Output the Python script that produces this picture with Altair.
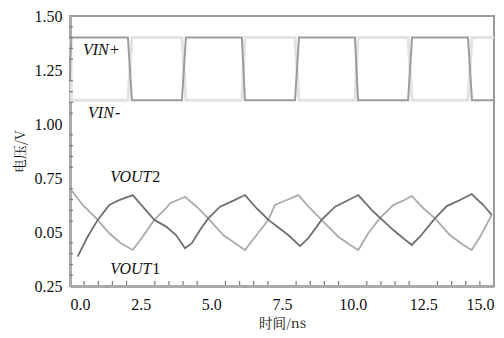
import altair as alt
import pandas as pd

# ---- data ----
# VOUT (dark curve)
t_a = [0.27, 0.60, 0.98, 1.39, 1.74, 2.22, 2.98, 3.40, 3.75, 4.07, 4.31, 4.60, 4.89, 5.31, 5.78, 6.19,
       6.60, 7.02, 7.72, 8.14, 8.43, 8.90, 9.38, 9.85, 10.20, 10.67, 10.97, 11.44, 11.79, 12.09,
       12.38, 12.91, 13.33, 13.80, 14.21, 14.62, 14.92]
v_a = [0.386, 0.472, 0.556, 0.625, 0.648, 0.671, 0.556, 0.525, 0.486, 0.425, 0.448, 0.509, 0.563, 0.617,
       0.645, 0.671, 0.610, 0.556, 0.486, 0.435, 0.471, 0.556, 0.617, 0.648, 0.671, 0.602, 0.565,
       0.509, 0.471, 0.440, 0.478, 0.563, 0.620, 0.648, 0.676, 0.625, 0.579]
# VOUT (light curve)
t_b = [0.04, 0.45, 0.98, 1.39, 1.80, 2.22, 2.57, 2.98, 3.40, 3.54, 4.07, 4.48, 4.89, 5.42, 5.84, 6.19,
       6.60, 7.02, 7.25, 7.67, 8.08, 8.49, 8.90, 9.49, 9.91, 10.20, 10.55, 10.97, 11.44, 11.79, 12.09,
       12.50, 12.91, 13.44, 13.91, 14.21, 14.51, 14.92]
v_b = [0.694, 0.625, 0.556, 0.494, 0.448, 0.417, 0.478, 0.556, 0.610, 0.633, 0.663, 0.617, 0.563, 0.486,
       0.448, 0.417, 0.486, 0.556, 0.625, 0.648, 0.671, 0.610, 0.556, 0.478, 0.440, 0.417, 0.494,
       0.565, 0.625, 0.645, 0.667, 0.610, 0.563, 0.486, 0.440, 0.417, 0.478, 0.579]
# VIN+ square wave
t_vp = [0.0, 0.01, 0.05, 2.05, 2.19, 3.96, 4.10, 6.08, 6.19, 7.96, 8.10, 10.08, 10.19, 11.96, 12.10, 14.08, 14.22, 15.0]
v_vp = [1.20, 1.30, 1.40, 1.40, 1.11, 1.11, 1.40, 1.40, 1.11, 1.11, 1.40, 1.40, 1.11, 1.11, 1.40, 1.40, 1.11, 1.11]
# VIN- square wave
t_vm = [0.03, 0.05, 2.05, 2.19, 3.96, 4.10, 6.08, 6.19, 7.96, 8.10, 10.08, 10.19, 11.96, 12.10, 14.08, 14.22, 15.0]
v_vm = [1.40, 1.11, 1.11, 1.40, 1.40, 1.11, 1.11, 1.40, 1.40, 1.11, 1.11, 1.40, 1.40, 1.11, 1.11, 1.40, 1.40]

x_ticks = [0, 2.5, 5, 7.5, 10, 12.5, 15]
y_ticks = [0.25, 0.5, 0.75, 1.0, 1.25, 1.5]
x_minor = [0.5, 1.0, 1.5, 2.0, 3.0, 3.5, 4.0, 4.5, 5.5, 6.0, 6.5, 7.0, 8.0, 8.5, 9.0, 9.5,
           10.5, 11.0, 11.5, 12.0, 13.0, 13.5, 14.0, 14.5]
y_minor = [0.30, 0.35, 0.40, 0.45, 0.55, 0.60, 0.65, 0.70, 0.80, 0.85, 0.90, 0.95,
           1.05, 1.10, 1.15, 1.20, 1.30, 1.35, 1.40, 1.45]

lab_main = ["VIN", "VIN", "VOUT", "VOUT"]
lab_suffix = ["+", "-", "2", "1"]
lab_t = [0.46, 0.64, 1.42, 1.42]
lab_v = [1.343, 1.051, 0.755, 0.329]

SERIF = "Liberation Serif, Times New Roman, serif"
CJK = "Noto Serif CJK SC, Noto Sans CJK SC"


def line_df(ts, vs):
    return pd.DataFrame({"t": ts, "v": vs, "i": list(range(len(ts)))})


x_enc = alt.X("t:Q",
              scale=alt.Scale(domain=[0, 15], nice=False, zero=False),
              axis=alt.Axis(values=x_ticks, format=".1f", ticks=False, grid=False,
                            labelPadding=10, labelFlush=2, labelFont=SERIF, labelFontSize=16,
                            labelColor="#111", domainColor="#aaaaaa", domainWidth=3,
                            title="时间/ns", titleFont=CJK, titleFontSize=13.5,
                            titleFontWeight="normal", titleColor="#111", titlePadding=4))
y_enc = alt.Y("v:Q",
              scale=alt.Scale(domain=[0.25, 1.5], nice=False, zero=False),
              axis=alt.Axis(values=y_ticks, labelExpr="datum.value == 0.5 ? '0.05' : format(datum.value, '.2f')",
                            ticks=False, grid=False, labelPadding=8, labelFont=SERIF, labelFontSize=16,
                            labelColor="#111", domainColor="#aaaaaa", domainWidth=3,
                            title="电压/V", titleFont=CJK, titleFontSize=14,
                            titleFontWeight="normal", titleColor="#111", titlePadding=7))


def line(df, color, width):
    return alt.Chart(df).mark_line(color=color, strokeWidth=width, interpolate="linear").encode(
        x=x_enc, y=y_enc, order="i:Q")


vin_m = line(line_df(t_vm, v_vm), "#e2e2e2", 3)
vin_p = line(line_df(t_vp, v_vp), "#9c9c9c", 2)
vout_b = line(line_df(t_b, v_b), "#ababab", 1.8)
vout_a = line(line_df(t_a, v_a), "#6e6e6e", 1.8)

lab_df = pd.DataFrame({"t": lab_t, "v": lab_v, "m": lab_main, "s": lab_suffix})
txt_main = alt.Chart(lab_df).mark_text(font=SERIF, fontSize=16, fontStyle="italic", align="left",
                                       baseline="middle", color="#111").encode(x=x_enc, y=y_enc, text="m:N")
txt_vin = alt.Chart(lab_df.iloc[:2]).mark_text(font=SERIF, fontSize=16, align="left", baseline="middle",
                                               color="#111", dx=27).encode(x=x_enc, y=y_enc, text="s:N")
txt_vout = alt.Chart(lab_df.iloc[2:]).mark_text(font=SERIF, fontSize=16, align="left", baseline="middle",
                                                color="#111", dx=42).encode(x=x_enc, y=y_enc, text="s:N")

xm = alt.Chart(pd.DataFrame({"t": x_minor})).mark_rule(color="#7a7a7a", strokeWidth=1.2).encode(
    x=x_enc, y=alt.value(265), y2=alt.value(269))
ym = alt.Chart(pd.DataFrame({"v": y_minor})).mark_rule(color="#7a7a7a", strokeWidth=1.2).encode(
    y=y_enc, x=alt.value(-1), x2=alt.value(3))

chart = alt.layer(vin_m, vin_p, vout_b, vout_a, txt_main, txt_vin, txt_vout, xm, ym).properties(
    width=424, height=270,
    autosize=alt.AutoSizeParams(type="none"),
    padding={"left": 62, "top": 8, "right": 2, "bottom": 44},
    background="white",
).configure_view(stroke="#9a9a9a", strokeWidth=2)

chart.save("out.html", embed_options={"renderer": "svg", "actions": False})
